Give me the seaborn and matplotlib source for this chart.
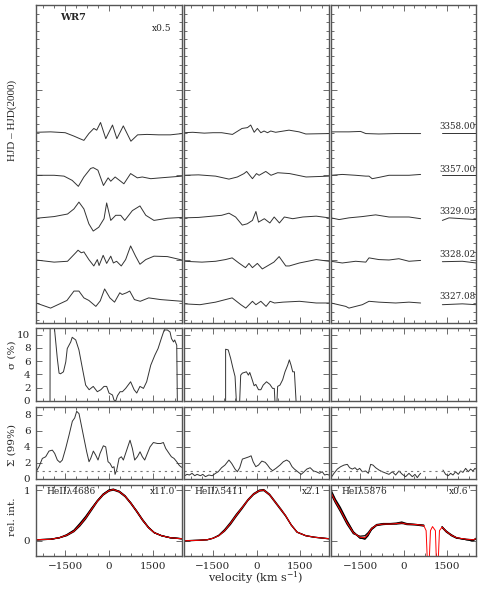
import numpy as np
import pandas as pd
import matplotlib
matplotlib.use('Agg')
import matplotlib.pyplot as plt
import seaborn as sns
from matplotlib.ticker import MultipleLocator, FixedLocator, NullFormatter

nan = np.nan

# ---------------- data ----------------
nights = ['3327.08', '3328.02', '3329.05', '3357.00', '3358.00']
lines = ['HeII\u03bb4686', 'HeII\u03bb5411', 'HeI\u03bb5876']
scales = ['x11.0', 'x2.1', 'x0.6']

# residual spectra (bottom night first), HeII 4686
res4686_v = [
    [-2500, -2000, -1440, -1200, -1030, -860, -690, -450, -300, -150, 30, 190, 370, 450, 600, 710, 870, 1070, 1360, 1770, 2500],
    [-2500, -1880, -1420, -1140, -1060, -950, -860, -690, -520, -400, -340, -200, -80, 60, 150, 260, 420, 570, 740, 910, 1060, 1260, 1540, 2000, 2500],
    [-2500, -1880, -1420, -1200, -1030, -860, -690, -540, -350, -170, -80, 60, 230, 400, 540, 800, 1060, 1260, 1540, 2000, 2500],
    [-2500, -1880, -1540, -1260, -1050, -860, -630, -540, -380, -190, -30, 60, 210, 510, 740, 970, 1140, 1430, 1770, 2500],
    [-2500, -2000, -1500, -1200, -1000, -860, -690, -520, -420, -290, -110, 120, 270, 490, 750, 980, 1300, 1700, 2100, 2500],
]
res4686_y = [
    [0, -0.12, 0.06, 0.28, 0.28, 0.12, 0.06, -0.08, 0.05, 0.33, 0.12, 0.02, 0.24, 0.20, 0.24, 0.28, 0.08, 0.04, 0.12, 0.08, 0.04],
    [0.01, -0.04, -0.02, 0.18, 0.24, 0.18, 0.20, 0.02, -0.13, 0.02, -0.12, 0.12, -0.07, 0.10, -0.06, -0.02, -0.13, 0.02, 0.34, 0.10, -0.09, 0.02, 0.10, 0.09, 0.01],
    [-0.01, 0.03, 0.09, 0.21, 0.37, 0.21, -0.14, -0.31, -0.22, -0.02, 0.35, -0.06, 0.06, 0.06, -0.06, 0.17, 0.28, 0.06, -0.06, -0.01, 0.01],
    [0, 0, -0.02, -0.12, -0.26, -0.04, 0.16, 0.18, 0.12, -0.24, -0.06, -0.14, -0.04, -0.20, 0.04, -0.06, -0.04, -0.08, -0.06, -0.02],
    [0.01, 0.02, 0.0, -0.08, -0.14, -0.18, -0.02, 0.10, 0.06, 0.24, -0.14, 0.18, -0.14, 0.16, -0.20, -0.05, -0.04, -0.05, -0.05, -0.02],
]

# HeII 5411
res5411_v = [
    [-2500, -1950, -1410, -1070, -840, -540, -370, -140, -20, 150, 330, 470, 620, 910, 1480, 2060, 2500],
    [-2500, -1880, -1410, -1070, -840, -610, -380, -260, -140, 30, 200, 600, 780, 1010, 1130, 1480, 2060, 2500],
    [-2500, -2000, -1200, -950, -720, -490, -320, -140, -20, 70, 270, 460, 610, 790, 960, 1250, 1600, 2060, 2500],
    [-2500, -2000, -1410, -950, -660, -430, -340, -140, 0, 90, 320, 500, 730, 1140, 1710, 2500],
    [-2500, -2200, -1800, -1500, -1200, -830, -500, -310, -200, -80, 30, 150, 260, 380, 490, 660, 1120, 1470, 1700, 2500],
]
res5411_y = [
    [-0.02, -0.04, 0.02, 0.08, 0.12, -0.04, -0.12, 0.04, -0.04, 0.04, -0.08, 0.04, 0, 0.02, 0.04, 0, 0],
    [-0.02, -0.04, -0.02, 0.02, 0.06, -0.06, -0.17, -0.07, -0.17, -0.07, -0.20, -0.04, 0.09, -0.13, -0.13, -0.06, 0.02, -0.02],
    [0, 0.01, 0.06, 0.11, 0.02, -0.17, -0.14, -0.06, 0.15, -0.10, -0.02, -0.12, 0.02, -0.12, 0.02, -0.02, 0.02, 0.04, 0],
    [0, 0.01, -0.02, -0.09, -0.04, 0.04, 0.09, -0.08, 0.04, 0, 0.09, 0, 0.06, 0.04, -0.04, -0.02],
    [0, 0.01, -0.01, 0, 0, -0.04, 0.10, 0.12, 0.18, 0.01, 0.10, 0, 0.04, 0, 0.04, 0.01, 0.06, 0.02, -0.03, -0.02],
]

# HeI 5876 (NaD region masked)
res5876_v = [
    [-2500, -1990, -1880, -1420, -1190, -850, -270, 190, 590, nan, 1340, 2030, 2500],
    [-2500, -2110, -1650, -1300, -1190, -850, -500, -160, 190, 590, nan, 1340, 2030, 2500],
    [-2500, -2220, -1880, -1420, -1080, -960, -500, 190, 590, nan, 1340, 1570, 2030, 2500],
    [-2500, -2110, -1650, -1300, -1190, -1080, -850, -500, 190, 590, nan, 1340, 1900, 2500],
    [-2500, -1880, -1480, -1300, -850, -280, 180, 590, nan, 1340, 2030, 2500],
]
res5876_y = [
    [0, -0.08, -0.12, -0.04, 0.04, 0.02, 0, 0.02, 0, nan, -0.04, -0.02, -0.04],
    [-0.02, -0.06, -0.02, -0.04, 0.06, 0.02, 0.01, 0.04, -0.02, 0, nan, -0.03, -0.02, -0.06],
    [0, -0.04, 0, 0.03, 0.06, 0.07, 0.02, 0.02, -0.02, nan, -0.06, 0, -0.02, -0.04],
    [0, 0.02, 0, -0.02, -0.02, -0.08, -0.05, 0, 0, 0.02, nan, 0, 0, 0],
    [0.02, 0.02, 0.03, -0.02, -0.03, -0.02, -0.02, -0.02, nan, 0, 0, 0],
]

# sigma (%) curves
sig4686_v = [-2020, -2015, -1880, -1770, -1710, -1660, -1560, -1480, -1430, -1310, -1260, -1140, -1030, -910, -800, -680,
             -540, -400, -280, -170, -80, 0, 120, 170, 230, 290, 380, 460, 570, 740, 860, 950, 1060, 1180, 1290, 1430,
             1570, 1680, 1790, 1890, 2000, 2090, 2140, 2210, 2250, 2320, 2340]
sig4686_y = [0, 14, 11.5, 6.4, 4.2, 4.1, 4.4, 5.9, 7.9, 8.9, 9.6, 9.2, 7.7, 4.9, 2.4, 1.7,
             2.2, 1.4, 1.7, 2.2, 2.2, 1.2, 0.9, 0.15, 0, 0.8, 1.4, 1.4, 1.9, 2.9, 1.7, 1.2, 2.2, 1.9, 2.9, 5.4,
             6.9, 7.9, 9.4, 10.7, 10.7, 10.4, 9.4, 8.9, 9.2, 8.4, 0]
sig5411_v = [-1065, -1065, -975, -890, -810, -740, -695, nan,
             -580, -545, -487, -348, -279, -232, -163, -82, -24, 69, 150, 231, 346, 462, 555, 613, 636, nan,
             706, 729, 809, 902, 983, 1075, 1133, 1191, 1249, 1307, 1364]
sig5411_y = [0, 7.8, 7.7, 6.4, 4.9, 3.7, 0, nan,
             0, 3.9, 4.2, 4.4, 3.9, 4.3, 3.4, 2.3, 2.5, 1.7, 1.7, 2.4, 2.9, 2.5, 1.9, 1.9, 0, nan,
             0, 2.2, 2.4, 3.2, 4.4, 5.4, 6.2, 5.4, 4.4, 4.4, 0]

# Sigma (99%) curves
big4686_v = [-2500, -2477, -2397, -2283, -2169, -2055, -1940, -1860, -1769, -1678, -1598, -1484, -1369, -1255, -1175, -1107,
             -1027, -947, -856, -764, -684, -627, -536, -456, -376, -307, -193, -113, -33, 35, 115, 172, 207, 264, 344,
             424, 492, 606, 720, 800, 880, 972, 1063, 1143, 1223, 1314, 1406, 1520, 1657, 1771, 1862, 1942, 2057, 2137,
             2228, 2319, 2399, 2456, 2500]
big4686_y = [0.95, 1.04, 1.54, 2.57, 2.78, 3.49, 3.61, 3.20, 2.37, 2.07, 2.37, 3.82, 5.48, 7.22, 7.63, 8.46,
             8.17, 6.72, 5.06, 3.40, 2.16, 2.57, 3.49, 2.99, 2.37, 3.20, 4.15, 4.02, 2.16, 1.95, 1.41, 1.54, 0.58, 1.12, 2.57,
             2.78, 2.37, 3.61, 4.85, 3.82, 2.37, 2.78, 3.40, 2.78, 2.37, 3.20, 4.02, 4.56, 4.44, 4.44, 4.56, 3.82, 3.20, 2.78,
             2.57, 2.16, 1.74, 1.54, 1.45]
big5411_v = [-2477, -2396, -2315, -2222, -2130, -2049, -1933, -1852, -1760, -1644, -1528, -1412, -1320, -1204, -1088, -950,
             -857, -741, -660, -579, -487, -348, -255, -186, -117, -24, 69, 184, 300, 381, 462, 555, 670, 809, 925, 1040,
             1133, 1226, 1307, 1422, 1538, 1619, 1735, 1850, 1966, 2059, 2175, 2267, 2348, 2429, 2498]
big5411_y = [0.41, 0.58, 0.50, 0.71, 0.41, 0.58, 0.41, 0.58, 0.29, 0.50, 0.41, 0.71, 0.91, 1.41, 1.74, 2.37,
             1.95, 1.24, 0.91, 1.41, 2.49, 2.66, 2.78, 2.90, 2.16, 1.54, 1.74, 2.24, 2.08, 1.74, 1.33, 1.04, 1.33, 1.74, 2.16, 2.37,
             2.16, 1.54, 1.24, 0.91, 0.58, 0.83, 1.24, 1.41, 1.00, 0.91, 0.71, 0.91, 0.50, 0.58, 0.50]
big5876_v = [-2477, -2397, -2282, -2167, -2052, -1937, -1857, -1765, -1673, -1592, -1512, -1420, -1305, -1213, -1133, -1052,
             -960, -845, -731, -593, -501, -386, -271, -156, -41, 74, 189, 304, 395, 476, 556, 591, nan,
             1361, 1453, 1545, 1625, 1705, 1797, 1889, 1970, 2050, 2142, 2234, 2314, 2395, 2464, 2498]
big5876_y = [0.29, 0.71, 1.24, 1.54, 1.74, 1.83, 1.41, 1.24, 1.41, 1.12, 1.33, 0.91, 1.00, 0.71, 1.83, 1.74,
             1.41, 1.12, 0.91, 0.71, 0.58, 0.91, 0.50, 1.00, 0.58, 0.29, 0.71, 0.29, 0.58, 0.17, 0.58, 0.71, nan,
             1.12, 0.58, 0.41, 0.71, 0.50, 0.91, 0.58, 1.00, 0.83, 1.33, 0.91, 1.24, 1.00, 1.33, 1.24]

# mean profiles (red) and individual nights (black)
prof4686_v = [-2500, -2000, -1700, -1450, -1200, -1000, -800, -600, -400, -200, 0, 150, 350, 550, 750, 950, 1150, 1350, 1550, 1800, 2100, 2500]
prof4686_mean = [0.02, 0.03, 0.06, 0.11, 0.19, 0.31, 0.45, 0.62, 0.78, 0.91, 0.99, 1.01, 0.97, 0.88, 0.74, 0.58, 0.41, 0.26, 0.16, 0.10, 0.06, 0.04]
prof4686_obs = [
    [0.02, 0.03, 0.06, 0.12, 0.21, 0.34, 0.48, 0.64, 0.79, 0.92, 1.00, 1.02, 0.97, 0.88, 0.75, 0.58, 0.41, 0.26, 0.16, 0.10, 0.06, 0.04],
    [0.02, 0.03, 0.06, 0.10, 0.18, 0.29, 0.43, 0.60, 0.77, 0.90, 0.98, 1.00, 0.96, 0.87, 0.73, 0.57, 0.40, 0.26, 0.16, 0.10, 0.06, 0.04],
    [0.02, 0.03, 0.06, 0.11, 0.20, 0.32, 0.46, 0.63, 0.79, 0.92, 1.00, 1.01, 0.98, 0.89, 0.74, 0.59, 0.42, 0.27, 0.16, 0.10, 0.06, 0.04],
]
prof5411_v = [-2500, -2000, -1700, -1500, -1300, -1100, -900, -700, -500, -300, -100, 100, 250, 450, 650, 850, 1000, 1200, 1400, 1700, 2000, 2500]
prof5411_mean = [0.0, 0.01, 0.02, 0.05, 0.10, 0.20, 0.34, 0.50, 0.65, 0.80, 0.92, 0.99, 1.0, 0.91, 0.76, 0.61, 0.50, 0.31, 0.17, 0.10, 0.07, 0.04]
prof5411_obs = [
    [0.0, 0.01, 0.02, 0.05, 0.11, 0.22, 0.36, 0.52, 0.66, 0.81, 0.93, 1.00, 1.01, 0.92, 0.77, 0.62, 0.50, 0.31, 0.17, 0.10, 0.07, 0.04],
    [0.0, 0.01, 0.02, 0.05, 0.10, 0.19, 0.32, 0.48, 0.63, 0.79, 0.91, 0.98, 0.99, 0.90, 0.75, 0.60, 0.49, 0.31, 0.17, 0.10, 0.07, 0.04],
]
prof5876_v = [-2500, -2350, -2180, -1950, -1730, -1500, -1330, -1220, -1100, -930, -700, -450, -235, -60, 110, 455, 700, 780, 830, 880, 930,
              1000, 1100, 1140, 1190, 1240, 1330, 1480, 1650, 1830, 2180, 2400, 2500]
prof5876_mean = [0.95, 0.78, 0.61, 0.36, 0.16, 0.07, 0.06, 0.13, 0.24, 0.31, 0.33, 0.33, 0.34, 0.35, 0.33, 0.32, 0.30, 0.20, -0.5, -0.5, 0.20,
                 0.28, 0.20, -0.5, -0.5, 0.20, 0.27, 0.18, 0.11, 0.06, 0.03, 0.02, 0.04]
prof5876_obs_v = [-2500, -2350, -2180, -1950, -1730, -1500, -1330, -1220, -1100, -930, -700, -450, -235, -60, 110, 455, 700, nan,
                  1330, 1480, 1650, 1830, 2180, 2400, 2500]
prof5876_obs = [
    [1.00, 0.82, 0.66, 0.40, 0.18, 0.06, 0.03, 0.10, 0.23, 0.32, 0.34, 0.34, 0.35, 0.37, 0.34, 0.32, 0.30, nan, 0.27, 0.19, 0.12, 0.06, 0.02, 0.0, 0.05],
    [0.92, 0.75, 0.58, 0.33, 0.14, 0.09, 0.10, 0.16, 0.25, 0.31, 0.33, 0.33, 0.33, 0.34, 0.33, 0.32, 0.31, nan, 0.28, 0.18, 0.10, 0.05, 0.03, 0.02, 0.03],
    [0.97, 0.80, 0.63, 0.38, 0.17, 0.05, 0.05, 0.12, 0.22, 0.30, 0.32, 0.33, 0.34, 0.36, 0.32, 0.31, 0.29, nan, 0.26, 0.17, 0.11, 0.06, 0.02, 0.01, 0.04],
]

# ---------------- figure ----------------
sns.set_theme(style='white')
plt.rcParams['font.family'] = ['DejaVu Serif']
plt.rcParams['mathtext.fontset'] = 'dejavuserif'

W, H = 491, 599
fig = plt.figure(figsize=(W / 100, H / 100), dpi=100)

cols_px = [(36, 182), (184, 329), (331, 476)]
rows_px = [(5, 323), (328, 401), (407, 479), (485, 556)]
frame = '#555555'


def make_ax(c, r):
    x0, x1 = cols_px[c]
    y0, y1 = rows_px[r]
    ax = fig.add_axes([x0 / W, 1 - y1 / H, (x1 - x0) / W, (y1 - y0) / H])
    for s in ax.spines.values():
        s.set_color(frame)
        s.set_linewidth(1.0)
    ax.set_xlim(-2500, 2500)
    ax.xaxis.set_major_locator(FixedLocator([-1500, 0, 1500]))
    ax.xaxis.set_minor_locator(MultipleLocator(375))
    ax.tick_params(which='both', direction='in', top=True, right=True, bottom=True, left=True,
                   color=frame, width=0.6, labelsize=7.5, pad=4)
    ax.tick_params(which='major', length=4)
    ax.tick_params(which='minor', length=2)
    if r < 3:
        ax.xaxis.set_major_formatter(NullFormatter())
    if c > 0:
        ax.yaxis.set_major_formatter(NullFormatter())
    return ax


def curve(ax, v, y, color='k', lw=0.7, offset=0.0):
    v = np.asarray(v, dtype=float)
    y = np.asarray(y, dtype=float) + offset
    seg = np.cumsum(np.isnan(v))
    df = pd.DataFrame({'v': v, 'y': y, 'seg': seg}).dropna()
    sns.lineplot(data=df, x='v', y='y', units='seg', estimator=None, sort=False,
                 color=color, lw=lw, ax=ax, legend=False)
    ax.set(xlabel='', ylabel='')


res_v = [res4686_v, res5411_v, res5876_v]
res_y = [res4686_y, res5411_y, res5876_y]
sig_v = [sig4686_v, sig5411_v, None]
sig_y = [sig4686_y, sig5411_y, None]
big_v = [big4686_v, big5411_v, big5876_v]
big_y = [big4686_y, big5411_y, big5876_y]
prof_v = [prof4686_v, prof5411_v, prof5876_v]
prof_mean = [prof4686_mean, prof5411_mean, prof5876_mean]
obs_v = [prof4686_v, prof5411_v, prof5876_obs_v]
obs_y = [prof4686_obs, prof5411_obs, prof5876_obs]

for c in range(3):
    # residual spectra
    ax = make_ax(c, 0)
    for i in range(len(nights)):
        curve(ax, res_v[c][i], res_y[c][i], color='#333333', lw=0.7, offset=i + 1)
    ax.set_ylim(0.53, 8.0)
    ax.yaxis.set_major_locator(MultipleLocator(2))
    ax.yaxis.set_minor_locator(MultipleLocator(0.2))
    ax.yaxis.set_major_formatter(NullFormatter())
    if c == 0:
        ax.text(0.165, 0.96, 'WR7', transform=ax.transAxes, fontsize=7, fontweight='bold', va='center')
        ax.text(0.93, 0.925, 'x0.5', transform=ax.transAxes, fontsize=6.5, ha='right', va='center')
    if c == 2:
        for i, n in enumerate(nights):
            ax.text(2480, i + 1 + 0.04, n, fontsize=6.3, ha='right', va='bottom')

    # sigma (%)
    ax = make_ax(c, 1)
    if sig_v[c] is not None:
        curve(ax, sig_v[c], sig_y[c], color='#333333', lw=0.7)
    ax.set_ylim(0, 11)
    ax.yaxis.set_major_locator(FixedLocator([0, 2, 4, 6, 8, 10]))
    ax.yaxis.set_minor_locator(FixedLocator([]))

    # Sigma (99%)
    ax = make_ax(c, 2)
    curve(ax, big_v[c], big_y[c], color='#333333', lw=0.7)
    ax.axhline(1, color='#777777', lw=0.8, ls=(0, (2, 3.5)))
    ax.set_ylim(0, 9)
    ax.yaxis.set_major_locator(FixedLocator([0, 2, 4, 6, 8]))
    ax.yaxis.set_minor_locator(FixedLocator([]))

    # profiles
    ax = make_ax(c, 3)
    for prof in obs_y[c]:
        curve(ax, obs_v[c], prof, color='black', lw=0.9)
    curve(ax, prof_v[c], prof_mean[c], color='red', lw=0.7)
    ax.set_ylim(-0.3, 1.1)
    ax.yaxis.set_major_locator(FixedLocator([0, 1]))
    ax.yaxis.set_minor_locator(FixedLocator([]))
    ax.xaxis.set_major_formatter(plt.FixedFormatter(['\u22121500', '0', '1500']))
    ax.text(0.075, 0.91, lines[c], transform=ax.transAxes, fontsize=6.5, va='center')
    ax.text(0.95, 0.91, scales[c], transform=ax.transAxes, fontsize=6.5, ha='right', va='center')

fig.text(0.025, 1 - 120 / H, 'HJD \u2013 HJD(2000)', rotation=90, ha='center', va='center',
         fontsize=8, family=['Liberation Serif'])
fig.text(0.025, 1 - 355 / H, '\u03c3 (%)', rotation=90, ha='center', va='center', fontsize=7.5)
fig.text(0.025, 1 - 445 / H, '\u03a3 (99%)', rotation=90, ha='center', va='center', fontsize=7.5)
fig.text(0.025, 1 - 517 / H, 'rel. int.', rotation=90, ha='center', va='center', fontsize=7.5)
fig.text(256 / W, 1 - 578 / H, 'velocity (km s$^{-1}$)', ha='center', va='center', fontsize=8)

fig.savefig('out.png', dpi=100, facecolor='white')
